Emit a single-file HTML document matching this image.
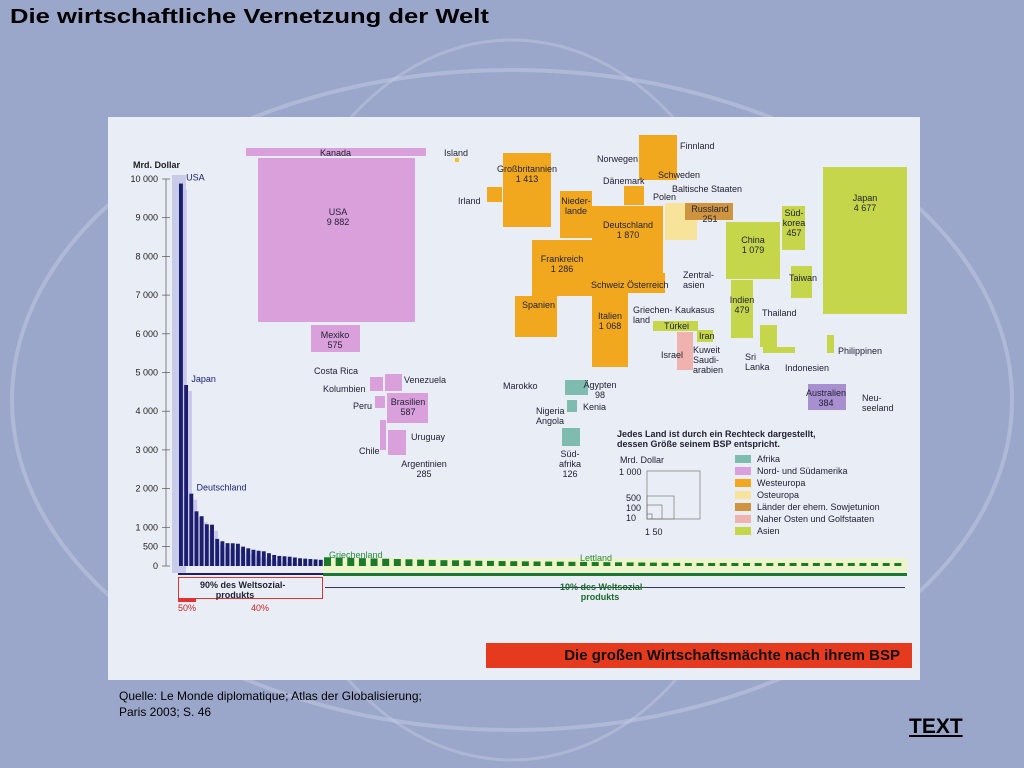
<!DOCTYPE html>
<html><head><meta charset="utf-8">
<style>
body{margin:0;width:1024px;height:768px;overflow:hidden;background:#9ba7ca;font-family:"Liberation Sans",sans-serif;position:relative}
.a{position:absolute}
.t{position:absolute;font-size:9px;color:#223;line-height:10px;white-space:nowrap}
.c{text-align:center}
.pk{background:#d9a0dc}.or{background:#f2a81e}.gr{background:#c5d64a}.tl{background:#7fbcb0}.ly{background:#f7e49a}.br{background:#cf9440}.rs{background:#f0b2ae}
</style></head><body>
<svg class="a" style="left:0;top:0" width="1024" height="768">
<ellipse cx="512" cy="400" rx="500" ry="330" fill="none" stroke="#c8d0e6" stroke-width="4" opacity=".45"/>
<ellipse cx="512" cy="400" rx="260" ry="360" fill="none" stroke="#c8d0e6" stroke-width="3" opacity=".4"/>
</svg>
<div class="a" style="left:10px;top:6px;font-size:20px;font-weight:bold;color:#000;transform:scaleX(1.28);transform-origin:left top">Die wirtschaftliche Vernetzung der Welt</div>
<div class="a" style="left:108px;top:117px;width:812px;height:563px;background:#e9edf5"></div>
<svg id="bars" class="a" style="left:0;top:0" width="1024" height="768"></svg>

<!-- treemap -->
<div class="a pk" style="left:246px;top:148px;width:180px;height:8px"></div>
<div class="t" style="left:320px;top:148px">Kanada</div>
<div class="a pk" style="left:258px;top:158px;width:157px;height:164px"></div>
<div class="t c" style="left:318px;top:207px;width:40px">USA<br>9 882</div>
<div class="a pk" style="left:311px;top:325px;width:49px;height:27px"></div>
<div class="t c" style="left:315px;top:330px;width:40px">Mexiko<br>575</div>
<div class="t" style="left:314px;top:366px">Costa Rica</div>
<div class="t" style="left:323px;top:384px">Kolumbien</div>
<div class="t" style="left:353px;top:401px">Peru</div>
<div class="t" style="left:359px;top:446px">Chile</div>
<div class="a pk" style="left:370px;top:377px;width:13px;height:14px"></div>
<div class="a pk" style="left:385px;top:374px;width:17px;height:17px"></div>
<div class="t" style="left:404px;top:375px">Venezuela</div>
<div class="a pk" style="left:375px;top:396px;width:10px;height:12px"></div>
<div class="a pk" style="left:387px;top:393px;width:41px;height:30px"></div>
<div class="t c" style="left:388px;top:397px;width:40px">Brasilien<br>587</div>
<div class="a pk" style="left:388px;top:430px;width:18px;height:25px"></div>
<div class="a pk" style="left:380px;top:420px;width:6px;height:30px"></div>
<div class="t" style="left:411px;top:432px">Uruguay</div>
<div class="t c" style="left:396px;top:459px;width:56px">Argentinien<br>285</div>
<div class="t" style="left:444px;top:148px">Island</div>
<div class="a ly" style="left:455px;top:158px;width:4px;height:4px;background:#f2c030"></div>
<div class="t" style="left:458px;top:196px">Irland</div>

<div class="a or" style="left:503px;top:153px;width:48px;height:74px"></div>
<div class="a or" style="left:487px;top:187px;width:15px;height:15px"></div>
<div class="t c" style="left:495px;top:164px;width:64px">Großbritannien<br>1 413</div>
<div class="a or" style="left:560px;top:191px;width:32px;height:47px"></div>
<div class="t c" style="left:560px;top:196px;width:32px">Nieder-<br>lande</div>
<div class="a or" style="left:592px;top:206px;width:71px;height:67px"></div>
<div class="t c" style="left:597px;top:220px;width:62px">Deutschland<br>1 870</div>
<div class="a or" style="left:532px;top:240px;width:60px;height:56px"></div>
<div class="t c" style="left:532px;top:254px;width:60px">Frankreich<br>1 286</div>
<div class="a or" style="left:515px;top:296px;width:42px;height:41px"></div>
<div class="t" style="left:522px;top:300px">Spanien</div>
<div class="a or" style="left:592px;top:293px;width:36px;height:74px"></div>
<div class="t c" style="left:592px;top:311px;width:36px">Italien<br>1 068</div>
<div class="a or" style="left:592px;top:273px;width:73px;height:20px"></div>
<div class="t" style="left:591px;top:280px">Schweiz Österreich</div>
<div class="a or" style="left:639px;top:135px;width:38px;height:45px"></div>
<div class="t" style="left:680px;top:141px">Finnland</div>
<div class="t" style="left:597px;top:154px">Norwegen</div>
<div class="t" style="left:658px;top:170px">Schweden</div>
<div class="a or" style="left:624px;top:186px;width:20px;height:19px"></div>
<div class="t" style="left:603px;top:176px">Dänemark</div>
<div class="t" style="left:653px;top:192px">Polen</div>
<div class="t" style="left:672px;top:184px">Baltische Staaten</div>
<div class="a ly" style="left:665px;top:203px;width:32px;height:37px"></div>
<div class="a br" style="left:685px;top:203px;width:48px;height:17px"></div>
<div class="t c" style="left:690px;top:204px;width:40px">Russland<br>251</div>
<div class="a gr" style="left:823px;top:167px;width:84px;height:147px"></div>
<div class="t c" style="left:845px;top:193px;width:40px">Japan<br>4 677</div>
<div class="a gr" style="left:726px;top:222px;width:54px;height:57px"></div>
<div class="t c" style="left:733px;top:235px;width:40px">China<br>1 079</div>
<div class="a gr" style="left:782px;top:206px;width:23px;height:44px"></div>
<div class="t c" style="left:780px;top:208px;width:28px">Süd-<br>korea<br>457</div>
<div class="a gr" style="left:791px;top:266px;width:21px;height:32px"></div>
<div class="t" style="left:789px;top:273px">Taiwan</div>
<div class="a gr" style="left:731px;top:280px;width:22px;height:58px"></div>
<div class="t c" style="left:728px;top:295px;width:28px">Indien<br>479</div>
<div class="t" style="left:683px;top:270px">Zentral-<br>asien</div>
<div class="t" style="left:762px;top:308px">Thailand</div>
<div class="a gr" style="left:760px;top:325px;width:17px;height:22px"></div>
<div class="a gr" style="left:763px;top:347px;width:32px;height:6px"></div>
<div class="t" style="left:745px;top:352px">Sri<br>Lanka</div>
<div class="t" style="left:785px;top:363px">Indonesien</div>
<div class="a gr" style="left:827px;top:335px;width:7px;height:18px"></div>
<div class="t" style="left:838px;top:346px">Philippinen</div>
<div class="t" style="left:633px;top:305px">Griechen- Kaukasus<br>land</div>
<div class="a gr" style="left:653px;top:321px;width:45px;height:10px"></div>
<div class="t" style="left:664px;top:321px">Türkei</div>
<div class="a gr" style="left:697px;top:330px;width:16px;height:12px"></div>
<div class="t" style="left:699px;top:331px">Iran</div>
<div class="a rs" style="left:677px;top:332px;width:16px;height:38px"></div>
<div class="t" style="left:661px;top:350px">Israel</div>
<div class="t" style="left:693px;top:345px">Kuweit<br>Saudi-<br>arabien</div>
<div class="a pk" style="left:808px;top:384px;width:38px;height:26px;background:#a890d0"></div>
<div class="t c" style="left:806px;top:388px;width:40px">Australien<br>384</div>
<div class="t" style="left:862px;top:393px">Neu-<br>seeland</div>
<div class="t" style="left:503px;top:381px">Marokko</div>
<div class="a tl" style="left:565px;top:380px;width:23px;height:15px"></div>
<div class="t c" style="left:580px;top:380px;width:40px">Ägypten<br>98</div>
<div class="a tl" style="left:567px;top:400px;width:10px;height:12px"></div>
<div class="t" style="left:583px;top:402px">Kenia</div>
<div class="t" style="left:536px;top:406px">Nigeria<br>Angola</div>
<div class="a tl" style="left:562px;top:428px;width:18px;height:18px"></div>
<div class="t c" style="left:550px;top:449px;width:40px">Süd-<br>afrika<br>126</div>

<!-- legend -->
<div class="t" style="left:617px;top:429px;font-weight:bold">Jedes Land ist durch ein Rechteck dargestellt,<br>dessen Größe seinem BSP entspricht.</div>
<div class="t" style="left:620px;top:455px">Mrd. Dollar</div>
<div class="t" style="left:619px;top:467px">1 000</div>
<div class="t" style="left:626px;top:493px">500<br>100<br>10</div>
<div class="t" style="left:645px;top:527px">1 50</div>
<svg class="a" style="left:640px;top:460px" width="70" height="70">
<rect x="7" y="11" width="53" height="48" fill="none" stroke="#777" stroke-width=".7"/>
<rect x="7" y="36" width="27" height="23" fill="none" stroke="#777" stroke-width=".7"/>
<rect x="7" y="45" width="15" height="14" fill="none" stroke="#777" stroke-width=".7"/>
<rect x="7" y="54" width="5" height="5" fill="none" stroke="#777" stroke-width=".7"/>
</svg>
<div id="leg" class="a" style="left:735px;top:453px"></div>

<!-- bottom annotations -->
<div class="t" style="left:329px;top:550px;color:#2a8a3a">Griechenland</div>
<div class="t" style="left:580px;top:553px;color:#2a8a3a">Lettland</div>
<div class="a" style="left:178px;top:573px;width:145px;height:2px;background:#1a2060"></div>
<div class="a" style="left:323px;top:573px;width:584px;height:3px;background:#1a7a2a"></div>
<div class="a" style="left:178px;top:577px;width:145px;height:22px;border:1px solid #d33;box-sizing:border-box"></div>
<div class="t c" style="left:200px;top:580px;width:70px;font-weight:bold">90% des Weltsozial-<br>produkts</div>
<div class="a" style="left:325px;top:587px;width:580px;height:1px;background:#336"></div>
<div class="t c" style="left:560px;top:582px;width:80px;font-weight:bold;color:#1a6a2a">10% des Weltsozial-<br>produkts</div>
<div class="a" style="left:178px;top:599px;width:18px;height:3px;background:#d33"></div>
<div class="t" style="left:178px;top:603px;color:#c22">50%</div>
<div class="t" style="left:251px;top:603px;color:#c22">40%</div>
<div class="a" style="left:486px;top:643px;width:426px;height:25px;background:#e63a1e;color:#111;font-weight:bold;font-size:15px;line-height:25px;text-align:right;padding-right:12px;box-sizing:border-box">Die großen Wirtschaftsmächte nach ihrem BSP</div>

<div class="a" style="left:119px;top:688px;font-size:12px;line-height:16px;color:#000">Quelle: Le Monde diplomatique; Atlas der Globalisierung;<br>Paris 2003; S. 46</div>
<div class="a" style="left:909px;top:715px;font-size:21px;font-weight:bold;text-decoration:underline;color:#000">TEXT</div>

<script>
const yTicks=[0,500,1000,2000,3000,4000,5000,6000,7000,8000,9000,10000];
const tickLabels=["0","500","1 000","2 000","3 000","4 000","5 000","6 000","7 000","8 000","9 000","10 000"];
const bigValues=[9882,4677,1870,1413,1286,1079,1068,700,640,590,587,575,500,457,420,394,380,330,285,260,251,240,220,200,190,180,170,160];
const smallValues=[150,145,140,135,130,125,120,115,110,105,100,98,95,90,88,85,82,80,78,76,74,72,70,68,66,64,62,60,58,56,54,52,50,48,46,44,42,40,38,36,34,32,30,28,26,24,22,20,18,16];
const barLabels=[[0,"USA"],[1,"Japan"],[2,"Deutschland"]];
const NS="http://www.w3.org/2000/svg",svg=document.getElementById('bars');
const y=v=>566-v*0.0387;
function mk(t,a){const e=document.createElementNS(NS,t);for(const k in a)e.setAttribute(k,a[k]);svg.appendChild(e);return e;}
const bg=mk('rect',{x:172,y:175,width:14,height:398,fill:'#c8cce8'});


mk('line',{x1:166,y1:y(10000),x2:166,y2:566,stroke:'#555','stroke-width':0.7});
yTicks.forEach((v,i)=>{
 mk('line',{x1:162,y1:y(v),x2:170,y2:y(v),stroke:'#555','stroke-width':0.7});
 const t=mk('text',{x:158,y:y(v)+3,'font-size':9,'text-anchor':'end',fill:'#222','font-family':'Liberation Sans'});
 t.textContent=tickLabels[i];
 
 
});
const yt=mk('text',{x:133,y:168,'font-size':9,'font-weight':'bold',fill:'#222','font-family':'Liberation Sans'});
yt.textContent='Mrd. Dollar';


const bw=145/bigValues.length;
bigValues.forEach((v,i)=>{
 const x=179+i*bw;
 mk('rect',{x:x+bw*0.8,y:y(v)+6,width:bw*0.7,height:566-y(v)-6,fill:'#c9c8ea'});
 const r=mk('rect',{x:x,y:y(v),width:bw*0.75,height:566-y(v),fill:'#1b1e6e'});
 
 
});
barLabels.forEach(([i,l])=>{
 const t=mk('text',{x:181+i*bw+bw,y:y(bigValues[i])-3,'font-size':9,fill:'#1b1e6e','font-family':'Liberation Sans'});
 t.textContent=l;
 
 
});
mk('rect',{x:323,y:558,width:584,height:14,fill:'#eef5c8'});
const sw=582/smallValues.length;
smallValues.forEach((v,i)=>{
 const h=Math.max(3,(566-y(v))*1.5);
 const r=mk('rect',{x:324+i*sw,y:566-h,width:sw*0.6,height:h,fill:'#1a7a2a'});
 
 
});
const legItems=[["#7fbcb0","Afrika"],["#d9a0dc","Nord- und Südamerika"],["#f2a81e","Westeuropa"],["#f7e49a","Osteuropa"],["#cf9440","Länder der ehem. Sowjetunion"],["#f0b2ae","Naher Osten und Golfstaaten"],["#c5d64a","Asien"]];
const leg=document.getElementById('leg');
legItems.forEach(([c,l])=>{
 const d=document.createElement('div');
 
 
 d.style.cssText='height:12px;font-size:9px;line-height:12px;color:#223;white-space:nowrap';
 d.innerHTML='<span style="display:inline-block;width:16px;height:8px;background:'+c+';margin-right:6px;vertical-align:-1px"></span>'+l;
 leg.appendChild(d);
});
</script>
</body></html>
